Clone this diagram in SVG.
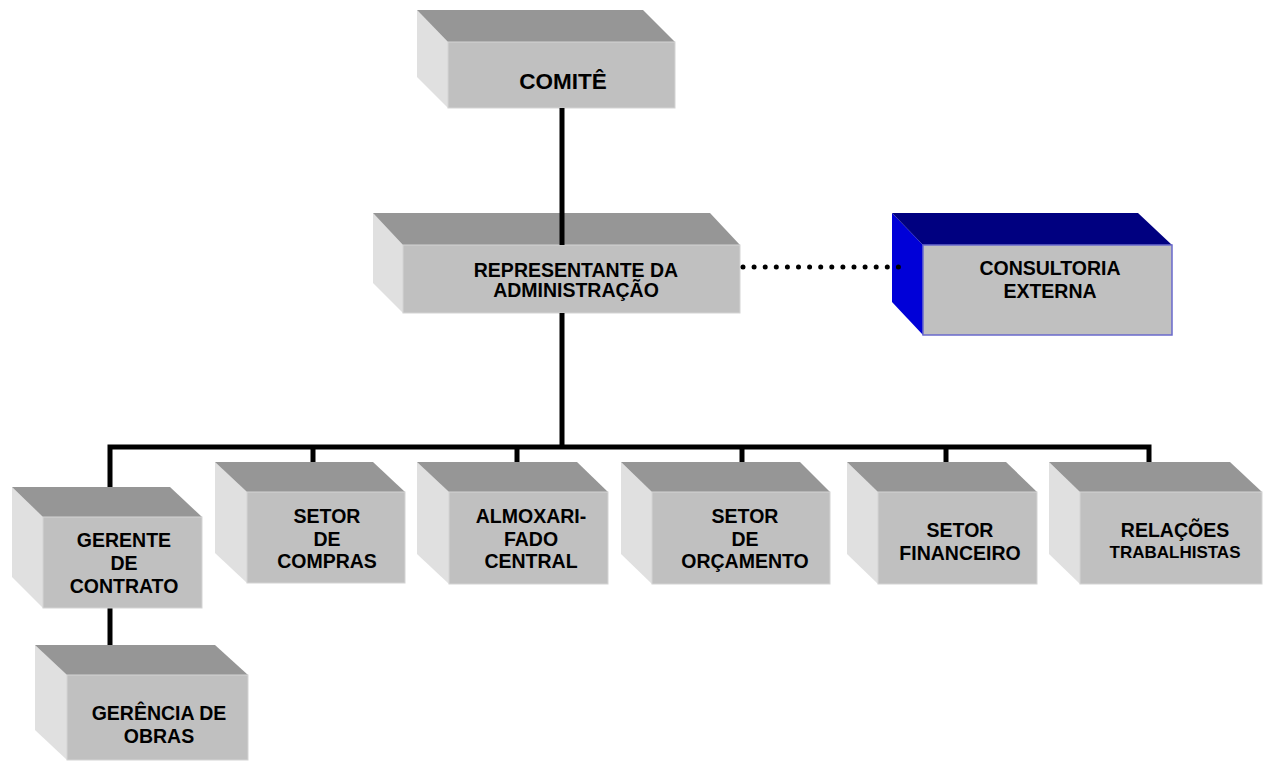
<svg xmlns="http://www.w3.org/2000/svg" width="1266" height="761" viewBox="0 0 1266 761">
<style>
.top{fill:#969696}
.side{fill:#e0e0e0}
.front{fill:#c0c0c0;stroke:#d4d4d4;stroke-width:1}
.btop{fill:#000080}
.bside{fill:#0000d8}
.bfront{fill:#c0c0c0;stroke:#6a6acc;stroke-width:1.5}
text{font-family:"Liberation Sans",Arial,sans-serif;font-weight:bold;fill:#000;text-anchor:middle;font-size:19.5px}
.ln{stroke:#000;stroke-width:5;fill:none}
</style>
<rect width="1266" height="761" fill="#fff"/>
<g id="comite">
<polygon class="side" points="417,10 448,42 448,108 417,77"/>
<polygon class="top" points="417,10 643,10 675,42 448,42"/>
<rect class="front" x="448" y="42" width="227" height="66"/>
<text x="563" y="89" style="font-size:22.5px">COMITÊ</text>
</g>
<g id="representante">
<polygon class="side" points="373,213 403,245 403,313 373,283"/>
<polygon class="top" points="373,213 710,213 740,245 403,245"/>
<rect class="front" x="403" y="245" width="337" height="68"/>
<text x="576" y="277">REPRESENTANTE DA</text>
<text x="576" y="297">ADMINISTRAÇÃO</text>
</g>
<g id="consultoria">
<polygon class="bside" points="892,213 923,245 923,335 892,302"/>
<polygon class="btop" points="892,213 1138,213 1172,245 923,245"/>
<rect class="bfront" x="923" y="245" width="249" height="90"/>
<text x="1050" y="275">CONSULTORIA</text>
<text x="1050" y="298">EXTERNA</text>
</g>
<g id="connectors">
<line class="ln" x1="562" y1="108" x2="562" y2="245"/>
<line class="ln" x1="562" y1="313" x2="562" y2="447"/>
<polyline class="ln" points="110,487 110,447 1149,447 1149,492"/>
<line class="ln" x1="313" y1="447" x2="313" y2="492"/>
<line class="ln" x1="517" y1="447" x2="517" y2="492"/>
<line class="ln" x1="742" y1="447" x2="742" y2="492"/>
<line class="ln" x1="946" y1="447" x2="946" y2="492"/>
<line class="ln" x1="110" y1="608" x2="110" y2="645"/>
<line x1="743" y1="267" x2="899" y2="267" stroke="#000" stroke-width="5" stroke-linecap="round" stroke-dasharray="0 11.1"/>
</g>
<g id="gerente">
<polygon class="side" points="12,487 43,517 43,608 12,577"/>
<polygon class="top" points="12,487 170,487 202,517 43,517"/>
<rect class="front" x="43" y="517" width="159" height="91"/>
<text x="124" y="547">GERENTE</text>
<text x="124" y="570">DE</text>
<text x="124" y="593">CONTRATO</text>
</g>
<g id="compras">
<polygon class="side" points="215,462 247,492 247,583 215,553"/>
<polygon class="top" points="215,462 373,462 405,492 247,492"/>
<rect class="front" x="247" y="492" width="158" height="91"/>
<text x="327" y="523">SETOR</text>
<text x="327" y="546">DE</text>
<text x="327" y="568">COMPRAS</text>
</g>
<g id="almoxarifado">
<polygon class="side" points="417,462 449,492 449,584 417,554"/>
<polygon class="top" points="417,462 577,462 608,492 449,492"/>
<rect class="front" x="449" y="492" width="159" height="92"/>
<text x="531" y="523">ALMOXARI-</text>
<text x="531" y="546">FADO</text>
<text x="531" y="568">CENTRAL</text>
</g>
<g id="orcamento">
<polygon class="side" points="621,462 652,492 652,584 621,554"/>
<polygon class="top" points="621,462 800,462 830,492 652,492"/>
<rect class="front" x="652" y="492" width="178" height="92"/>
<text x="745" y="523">SETOR</text>
<text x="745" y="546">DE</text>
<text x="745" y="568">ORÇAMENTO</text>
</g>
<g id="financeiro">
<polygon class="side" points="847,462 878,492 878,584 847,554"/>
<polygon class="top" points="847,462 1006,462 1037,492 878,492"/>
<rect class="front" x="878" y="492" width="159" height="92"/>
<text x="960" y="537">SETOR</text>
<text x="960" y="560">FINANCEIRO</text>
</g>
<g id="relacoes">
<polygon class="side" points="1049,462 1080,492 1080,584 1049,554"/>
<polygon class="top" points="1049,462 1230,462 1262,492 1080,492"/>
<rect class="front" x="1080" y="492" width="182" height="92"/>
<text x="1175" y="537">RELAÇÕES</text>
<text x="1175" y="558" style="font-size:17px">TRABALHISTAS</text>
</g>
<g id="obras">
<polygon class="side" points="35,645 67,675 67,760 35,730"/>
<polygon class="top" points="35,645 215,645 248,675 67,675"/>
<rect class="front" x="67" y="675" width="181" height="85"/>
<text x="159" y="720">GERÊNCIA DE</text>
<text x="159" y="743">OBRAS</text>
</g>
</svg>
